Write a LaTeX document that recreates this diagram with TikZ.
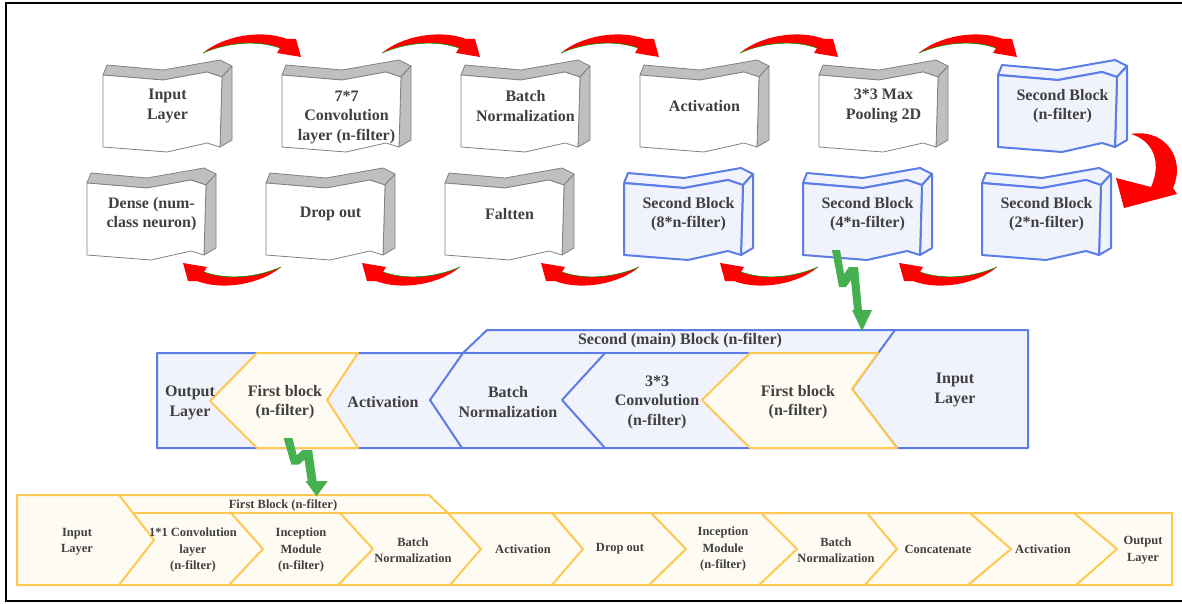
\documentclass[tikz,border=0pt]{standalone}
\usepackage{fontspec}
\setmainfont{Liberation Serif}
\usepackage{tikz}
\usetikzlibrary{positioning, backgrounds}
\definecolor{boxgray}{RGB}{191,191,191}
\definecolor{edgegray}{RGB}{128,128,128}
\definecolor{blueline}{RGB}{90,125,230}
\definecolor{bluefill}{RGB}{240,242,252}
\definecolor{yelline}{RGB}{255,200,80}
\definecolor{yelfill}{RGB}{254,251,242}
\definecolor{txtgray}{RGB}{64,64,64}
\definecolor{boltgreen}{RGB}{70,175,80}
\tikzstyle{wave} = [rectangle, minimum width=129pt, minimum height=92pt, inner sep=0pt, outer sep=0pt, align=center, text=txtgray, font=\bfseries\fontsize{16}{19.5}\selectfont]
\tikzstyle{cell} = [align=center, inner sep=0pt, text=txtgray, font=\bfseries\fontsize{16}{19.5}\selectfont]
\tikzstyle{smallcell} = [align=center, inner sep=0pt, text=txtgray, font=\bfseries\fontsize{12.5}{16.5}\selectfont]
\tikzstyle{gray side} = [fill=boxgray, draw=edgegray, line width=0.8pt, line join=round]
\tikzstyle{gray face} = [fill=white, draw=edgegray, line width=0.8pt, line join=round]
\tikzstyle{blue side} = [fill=bluefill, draw=blueline, line width=2pt, line join=round]
\tikzstyle{blue face} = [fill=bluefill, draw=blueline, line width=2pt, line join=round]
\tikzstyle{blueband} = [fill=bluefill, draw=blueline, line width=2pt, line join=round]
\tikzstyle{bline} = [draw=blueline, line width=2pt, line join=round]
\tikzstyle{yellowband} = [fill=yelfill, draw=yelline, line width=2pt, line join=round]
\tikzstyle{yline} = [draw=yelline, line width=2pt, line join=round]
\tikzset{
  crescent/.pic={
    \fill[red] (0,0) .. controls (20,-17) and (58,-24) .. (84,-14) -- (93,-14) -- (98,4) -- (74,0) -- (77,-5) .. controls (55,-13) and (25,-11) .. (0,0) -- cycle;
    \draw[green!60!black, line width=0.6pt] (77,-5) .. controls (55,-13) and (25,-11) .. (0,0);
  },
  bigturn/.pic={
    \fill[red] (0,0) .. controls (35,-6) and (55,26) .. (42,54) -- (46,60) -- (-7,74) -- (-15,44) -- (20,53) .. controls (32,26) and (20,6) .. (0,0) -- cycle;
  },
  bolt/.pic={
    \fill[boltgreen] (-4,0) -- (4,0) -- (8,24) -- (13,17) -- (22,17) -- (26,60) -- (36,60) -- (26,81) -- (16,60) -- (18,60) -- (15,30) -- (10,37) -- (3,37) -- cycle;
  }
}
% 3D banner drawn behind a node
\newcommand{\waveshape}[2]{%
  \begin{scope}[shift={(#1.north west)}]
    \draw[#2 side] (0,15) -- (60,20) -- (104,12) -- (119,17) -- (129,6) -- (117,0) -- (60,10) -- (4,5) -- cycle;
    \draw[#2 side] (119,17) -- (129,6) -- (129,80) -- (117,87) -- cycle;
    \draw[#2 face] (0,15) -- (60,20) -- (104,12) -- (119,17) -- (117,87) -- (104,83) -- (64,92) -- (0,87) -- cycle;
  \end{scope}}

\begin{document}
\begin{tikzpicture}[x=1pt, y=-1pt, node distance=50pt]
\useasboundingbox (0,0) rectangle (1182,604);
\draw[line width=2.5pt] (6,3) rectangle (1200,601);

% Nodes for the first row
\node[wave, anchor=north west] (input) at (103,60) {Input\\Layer};
\node[wave, right=of input] (conv) {\strut\\7*7\\Convolution\\layer (n-filter)};
\node[wave, right=of conv] (batch) {Batch\\Normalization};
\node[wave, right=of batch] (act) {Activation};
\node[wave, right=of act] (pool) {3*3 Max\\Pooling 2D};
\node[wave, right=of pool] (sb1) {Second Block\\(n-filter)};

% Nodes for the second row
\node[wave, below=16pt of sb1, xshift=-16pt] (sb2) {Second Block\\(2*n-filter)};
\node[wave, left=of sb2] (sb4) {Second Block\\(4*n-filter)};
\node[wave, left=of sb4] (sb8) {Second Block\\(8*n-filter)};
\node[wave, left=of sb8] (flat) {Faltten};
\node[wave, left=of flat] (drop) {Drop out};
\node[wave, left=of drop] (dense) {Dense (num-\\class neuron)};

\begin{scope}[on background layer]
\waveshape{input}{gray}
\waveshape{conv}{gray}
\waveshape{batch}{gray}
\waveshape{act}{gray}
\waveshape{pool}{gray}
\waveshape{sb1}{blue}
\waveshape{sb2}{blue}
\waveshape{sb4}{blue}
\waveshape{sb8}{blue}
\waveshape{flat}{gray}
\waveshape{drop}{gray}
\waveshape{dense}{gray}
\end{scope}

% Red arrows between the blocks
\pic at ([shift={(100,-7)}]input.north west) {crescent};
\pic at ([shift={(100,-7)}]conv.north west) {crescent};
\pic at ([shift={(100,-7)}]batch.north west) {crescent};
\pic at ([shift={(100,-7)}]act.north west) {crescent};
\pic at ([shift={(100,-7)}]pool.north west) {crescent};
\pic at ([shift={(133,74)}]sb1.north west) {bigturn};
\pic[rotate=180] at ([shift={(15,99)}]sb2.north west) {crescent};
\pic[rotate=180] at ([shift={(15,99)}]sb4.north west) {crescent};
\pic[rotate=180] at ([shift={(15,99)}]sb8.north west) {crescent};
\pic[rotate=180] at ([shift={(15,99)}]flat.north west) {crescent};
\pic[rotate=180] at ([shift={(15,99)}]drop.north west) {crescent};

% Second (main) block
\draw[blueband] (157,353) -- (463,353) -- (487,330) -- (1028,330) -- (1028,448) -- (157,448) -- cycle;
\draw[bline] (463,353) -- (750,353);
\draw[bline] (463,353) -- (430,400) -- (462,448);
\draw[bline] (605,353) -- (562,400) -- (605,448);
\draw[bline] (895,330) -- (852,389) -- (897,448);
\draw[yellowband] (257,353) -- (358,353) -- (327,400) -- (358,448) -- (257,448) -- (210,401) -- cycle;
\draw[yellowband] (750,353) -- (878,353) -- (852,389) -- (897,448) -- (750,448) -- (702,400) -- cycle;

\node[cell] (mhead) at (680,341) {Second (main) Block (n-filter)};
\node[cell] (mout) at (190,403) {Output\\Layer};
\node[cell] (mfirst1) at (285,402) {First block\\(n-filter)};
\node[cell] (mact) at (383,402) {Activation};
\node[cell] (mbatch) at (508,402) {Batch\\Normalization};
\node[cell] (mconv) at (657,402) {3*3\\Convolution\\(n-filter)};
\node[cell] (mfirst2) at (798,402) {First block\\(n-filter)};
\node[cell] (minput) at (955,390) {Input\\Layer};

% First block
\draw[yellowband] (17,495) -- (429,495) -- (448,513) -- (1172,513) -- (1172,585) -- (17,585) -- cycle;
\draw[yline] (133,513) -- (448,513);
\draw[yline] (119,495) -- (154,540) -- (119,585);
\draw[yline] (231,513) -- (263,549) -- (229,585);
\draw[yline] (340,513) -- (373,549) -- (338,585);
\draw[yline] (448,513) -- (481,549) -- (450,585);
\draw[yline] (552,513) -- (583,549) -- (552,585);
\draw[yline] (651,513) -- (686,549) -- (649,585);
\draw[yline] (761,513) -- (797,549) -- (759,585);
\draw[yline] (867,513) -- (897,549) -- (865,585);
\draw[yline] (970,513) -- (1011,549) -- (968,585);
\draw[yline] (1074,513) -- (1117,549) -- (1076,585);

\node[smallcell] (bhead) at (283,505) {First Block (n-filter)};
\node[smallcell] (binput) at (77,542) {Input\\Layer};
\node[smallcell] (bconv) at (193,550) {1*1 Convolution\\layer\\(n-filter)};
\node[smallcell] (bincep1) at (301,550) {Inception\\Module\\(n-filter)};
\node[smallcell] (bbatch1) at (413,550) {Batch\\Normalization};
\node[smallcell] (bact1) at (523,549) {Activation};
\node[smallcell] (bdrop) at (620,549) {Drop out};
\node[smallcell] (bincep2) at (723,549) {Inception\\Module\\(n-filter)};
\node[smallcell] (bbatch2) at (836,550) {Batch\\Normalization};
\node[smallcell] (bconcat) at (938,549) {Concatenate};
\node[smallcell] (bact2) at (1043,549) {Activation};
\node[smallcell] (boutput) at (1143,550) {Output\\Layer};

% Green arrows into the detailed blocks
\pic at ([shift={(33,82)}]sb4.north west) {bolt};
\pic[xscale=1.1, yscale=0.72] at ([shift={(3,36)}]mfirst1.center) {bolt};

\end{tikzpicture}
\end{document}
